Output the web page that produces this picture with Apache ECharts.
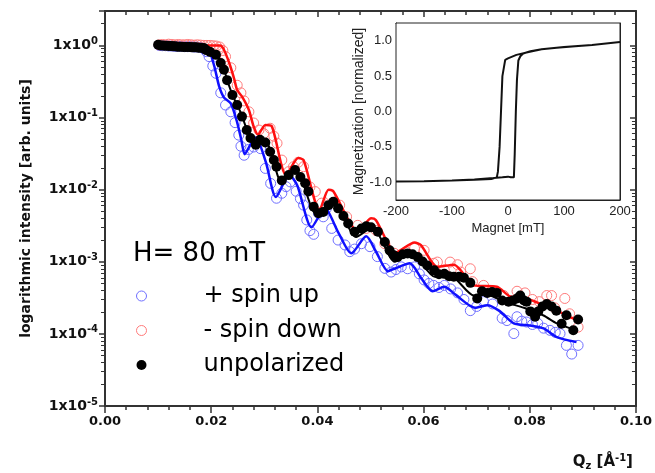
<!DOCTYPE html>
<html><head><meta charset="utf-8">
<script src="https://cdn.jsdelivr.net/npm/echarts@6/dist/echarts.min.js"></script>
<style>html,body{margin:0;padding:0;background:#fff}#c{width:655px;height:473px}</style>
</head><body><div id="c"></div>
<script>
// ---- main chart data: [Q (1/Å), intensity] ----
const spinUpPts = [[0.0102,1.0],[0.0108,0.99],[0.0114,0.99],[0.0120,0.98],[0.0126,0.98],[0.0132,0.97],[0.0138,0.97],[0.0144,0.97],[0.0150,0.96],[0.0156,0.96],[0.0162,0.96],[0.0168,0.95],[0.0174,0.95],[0.0180,0.94],[0.0186,0.90],[0.0191,0.82],[0.0196,0.70],[0.0203,0.52],[0.0209,0.41],[0.0218,0.22],[0.0227,0.149],[0.0237,0.12],[0.0245,0.085],[0.0252,0.057],[0.0256,0.040],[0.0262,0.030],[0.0270,0.036],[0.0280,0.039],[0.0293,0.037],[0.0302,0.0197],[0.0312,0.0122],[0.0323,0.0076],[0.0333,0.0089],[0.0341,0.0110],[0.0349,0.0128],[0.0360,0.0095],[0.0368,0.0075],[0.0374,0.0061],[0.0380,0.0038],[0.0386,0.0027],[0.0393,0.0024],[0.0402,0.0047],[0.0411,0.0042],[0.0417,0.0055],[0.0427,0.0029],[0.0439,0.0020],[0.0452,0.00171],[0.0461,0.00138],[0.0470,0.00150],[0.0483,0.00178],[0.0499,0.00162],[0.0513,0.00118],[0.0527,0.00081],[0.0539,0.00072],[0.0548,0.00078],[0.0558,0.00085],[0.0570,0.00080],[0.0583,0.00085],[0.0592,0.00068],[0.0601,0.00056],[0.0610,0.00050],[0.0619,0.00047],[0.0629,0.00044],[0.0639,0.00047],[0.0651,0.00042],[0.0664,0.00037],[0.0676,0.00030],[0.0688,0.00021],[0.0700,0.00024],[0.0713,0.00028],[0.0730,0.00026],[0.0748,0.000165],[0.0757,0.000153],[0.0770,0.000101],[0.0776,0.000173],[0.0785,0.000150],[0.0794,0.000146],[0.0805,0.000135],[0.0815,0.000140],[0.0826,0.000120],[0.0838,0.000112],[0.0848,0.000105],[0.0857,0.000101],[0.0869,0.0000693],[0.0879,0.0000525],[0.0891,0.0000693]];
const spinDownPts = [[0.0102,1.02],[0.0108,1.03],[0.0114,1.02],[0.0120,1.04],[0.0126,1.03],[0.0132,1.02],[0.0138,1.03],[0.0144,1.02],[0.0150,1.02],[0.0156,1.03],[0.0162,1.02],[0.0168,1.01],[0.0174,1.02],[0.0180,1.01],[0.0186,1.0],[0.0192,1.0],[0.0198,1.0],[0.0204,0.99],[0.0210,0.98],[0.0216,0.95],[0.0222,0.85],[0.0227,0.70],[0.0237,0.49],[0.0249,0.28],[0.0256,0.22],[0.0262,0.17],[0.0271,0.12],[0.0280,0.084],[0.0290,0.067],[0.0299,0.060],[0.0311,0.071],[0.0318,0.055],[0.0324,0.044],[0.0333,0.0257],[0.0346,0.0178],[0.0355,0.0208],[0.0364,0.024],[0.0374,0.0208],[0.0386,0.0109],[0.0396,0.0094],[0.0408,0.0065],[0.0424,0.0084],[0.0442,0.0061],[0.0455,0.0042],[0.0476,0.0032],[0.0492,0.0029],[0.0511,0.0027],[0.0527,0.00178],[0.0545,0.00131],[0.0567,0.00138],[0.0583,0.00153],[0.0601,0.00144],[0.0619,0.00095],[0.0626,0.00099],[0.0639,0.00077],[0.0650,0.00099],[0.0664,0.00091],[0.0670,0.00072],[0.0688,0.00080],[0.0692,0.00053],[0.0713,0.00047],[0.0729,0.00040],[0.0751,0.00034],[0.0776,0.00039],[0.0791,0.00037],[0.0805,0.00030],[0.0818,0.00028],[0.0832,0.00034],[0.0841,0.00034],[0.0847,0.00023],[0.0866,0.00031],[0.0875,0.00019],[0.0891,0.000124]];
const unpolPts = [[0.0100,1.02],[0.0104,1.0],[0.0108,1.0],[0.0112,0.99],[0.0116,0.99],[0.0120,0.98],[0.0124,0.98],[0.0128,0.97],[0.0132,0.97],[0.0136,0.96],[0.0140,0.96],[0.0144,0.96],[0.0148,0.95],[0.0152,0.95],[0.0156,0.95],[0.0160,0.95],[0.0164,0.94],[0.0168,0.94],[0.0172,0.94],[0.0176,0.93],[0.0180,0.93],[0.0184,0.92],[0.0187,0.91],[0.0190,0.866],[0.0198,0.81],[0.0209,0.74],[0.0218,0.57],[0.0224,0.46],[0.0230,0.33],[0.0240,0.205],[0.0249,0.149],[0.0258,0.103],[0.0267,0.067],[0.0274,0.052],[0.0284,0.042],[0.0292,0.049],[0.0302,0.045],[0.0311,0.0335],[0.0318,0.0257],[0.0323,0.0208],[0.0333,0.0134],[0.0346,0.0159],[0.0358,0.0187],[0.0368,0.0150],[0.0377,0.0123],[0.0383,0.0094],[0.0393,0.0058],[0.0402,0.0047],[0.0411,0.0049],[0.0421,0.0061],[0.0430,0.0068],[0.0439,0.0055],[0.0449,0.0043],[0.0458,0.0034],[0.0470,0.0026],[0.0483,0.0029],[0.0492,0.0031],[0.0501,0.0030],[0.0514,0.0026],[0.0527,0.00188],[0.0536,0.00144],[0.0544,0.00123],[0.0551,0.00116],[0.0561,0.00127],[0.0570,0.00130],[0.0579,0.00127],[0.0589,0.00116],[0.0598,0.00101],[0.0607,0.00089],[0.0620,0.00076],[0.0629,0.00067],[0.0639,0.00068],[0.0648,0.00063],[0.0657,0.00062],[0.0667,0.00062],[0.0676,0.00060],[0.0688,0.00051],[0.0701,0.00031],[0.0710,0.00039],[0.0720,0.00037],[0.0729,0.00038],[0.0738,0.00037],[0.0748,0.00029],[0.0760,0.00028],[0.0768,0.00029],[0.0776,0.00031],[0.0782,0.00034],[0.0789,0.00029],[0.0794,0.00028],[0.0801,0.000205],[0.0810,0.000173],[0.0816,0.000205],[0.0824,0.00024],[0.0832,0.00026],[0.0841,0.00024],[0.0850,0.00021],[0.0860,0.000138],[0.0869,0.000181],[0.0882,0.000112],[0.0891,0.000158]];
// fitted curves
const spinUpFit = [[0.0099,1.0],[0.0187,0.99],[0.0196,0.87],[0.0206,0.51],[0.0215,0.27],[0.0224,0.19],[0.0237,0.157],[0.0249,0.085],[0.0257,0.048],[0.0263,0.031],[0.0274,0.042],[0.0284,0.053],[0.0303,0.024],[0.0322,0.0079],[0.0347,0.016],[0.0362,0.0115],[0.0389,0.0030],[0.0414,0.0055],[0.0440,0.0025],[0.0464,0.00131],[0.0492,0.00225],[0.0510,0.0014],[0.0533,0.00074],[0.0545,0.00080],[0.0574,0.00095],[0.0595,0.00060],[0.0617,0.00039],[0.0639,0.00045],[0.0660,0.00035],[0.0697,0.00023],[0.0720,0.00025],[0.0742,0.00021],[0.0770,0.000140],[0.0800,0.000131],[0.0826,0.000119],[0.0851,0.000090],[0.0888,0.000077]];
const spinDownFit = [[0.0099,1.0],[0.0217,1.0],[0.0224,0.87],[0.0234,0.57],[0.0243,0.35],[0.0249,0.24],[0.0259,0.19],[0.0271,0.127],[0.0280,0.075],[0.0288,0.058],[0.0302,0.079],[0.0314,0.076],[0.0341,0.016],[0.0364,0.0274],[0.0374,0.0257],[0.0404,0.0052],[0.0421,0.0100],[0.0430,0.0095],[0.0477,0.0026],[0.0501,0.0040],[0.0510,0.0038],[0.0548,0.00135],[0.0583,0.00185],[0.0595,0.0017],[0.0626,0.00085],[0.0657,0.00091],[0.0695,0.00047],[0.0738,0.00045],[0.0763,0.00033],[0.0794,0.00031],[0.0826,0.00025],[0.0851,0.00021],[0.0888,0.000155]];
const unpolFit = [[0.0099,1.0],[0.0190,0.96],[0.0202,0.90],[0.0212,0.72],[0.0222,0.52],[0.0232,0.30],[0.0242,0.19],[0.0255,0.12],[0.0268,0.066],[0.0282,0.041],[0.0298,0.050],[0.0310,0.038],[0.0333,0.0125],[0.0356,0.0185],[0.0370,0.0140],[0.0398,0.0046],[0.0428,0.0066],[0.0445,0.0048],[0.0473,0.0022],[0.0501,0.0029],[0.0515,0.0024],[0.0546,0.00100],[0.0574,0.00132],[0.0590,0.00110],[0.0621,0.00062],[0.0650,0.00064],[0.0695,0.00034],[0.0715,0.00036],[0.0751,0.00028],[0.0789,0.00023],[0.0826,0.00018],[0.0851,0.00014],[0.0888,0.000112]];
// inset hysteresis loop: field (mT) and normalized magnetization, in drawing order
const loopField = [-200,-150,-100,-60,-26,-10,0,5,8,10.5,12,14,16,18.5,22,27,40,60,87,120,150,200,150,100,60,39,15,0,-5,-8,-10,-12.5,-15,-18,-20,-22,-30,-60,-100,-150,-200];
const loopMag = [-0.99,-0.985,-0.975,-0.96,-0.94,-0.93,-0.92,-0.93,-0.94,-0.93,-0.6,0.0,0.45,0.72,0.78,0.82,0.85,0.88,0.90,0.92,0.94,0.98,0.94,0.91,0.88,0.845,0.80,0.75,0.73,0.71,0.5,0.0,-0.5,-0.85,-0.93,-0.945,-0.955,-0.965,-0.975,-0.985,-0.99];
const insetYTicks = [-1.0, -0.5, 0.0, 0.5, 1.0];
const legendNames = ['+ spin up', '- spin down', 'unpolarized'];
const fieldLabel = 'H= 80 mT';

const FONT = 'DejaVu Sans';
const AX = '#333';
const chart = echarts.init(document.getElementById('c'), null, {renderer: 'canvas'});

function logLabel(v) {
  const e = Math.round(Math.log10(v));
  if (Math.abs(v / Math.pow(10, e) - 1) > 1e-6) return '';
  return '{b|1x10}{s|' + e + '}';
}
const loopData = loopField.map((h, i) => [h, loopMag[i]]);

chart.setOption({
  animation: false,
  backgroundColor: '#fff',
  title: {
    text: fieldLabel, left: 128, top: 236,
    textStyle: {fontFamily: FONT, fontSize: 26, fontWeight: 'normal', color: '#000'}
  },
  legend: {
    data: legendNames.map((n, i) => ({
      name: n, icon: 'circle',
      itemStyle: i < 2 ? {color: 'rgba(0,0,0,0)', borderColor: i === 0 ? '#6f6fff' : '#ff7b7b', borderWidth: 1} : {color: '#000'}
    })),
    orient: 'vertical', left: 131, top: 278, itemWidth: 10, itemHeight: 10, itemGap: 8.5,
    textStyle: {fontFamily: FONT, fontSize: 24, color: '#000', lineHeight: 26, padding: [0, 0, 0, 52]},
    selectedMode: false
  },
  grid: [
    {left: 105, right: 15, top: 11, bottom: 67, show: false},
    {left: 396, top: 23, width: 224, height: 177, show: true, backgroundColor: '#fff', borderColor: '#222', borderWidth: 1, z: 5}
  ],
  xAxis: [
    {type: 'value', gridIndex: 0, min: 0, max: 0.1, interval: 0.02, position: 'bottom',
     axisLine: {onZero: false, lineStyle: {color: AX, width: 2}},
     axisTick: {inside: false, length: 7, lineStyle: {color: AX, width: 1.5}},
     minorTick: {show: true, splitNumber: 5, length: 4, lineStyle: {color: AX, width: 1.5}},
     splitLine: {show: false},
     axisLabel: {margin: 9, fontFamily: FONT, fontWeight: 'bold', fontSize: 13, color: '#111', formatter: v => v.toFixed(2)},
     name: '{q|Q}{sub|z}{q| [Å}{sup|-1}{q|]}', nameLocation: 'end', nameGap: -3,
     nameTextStyle: {align: 'right', verticalAlign: 'top', padding: [47, 0, 0, 0],
       rich: {q: {fontFamily: FONT, fontWeight: 'bold', fontSize: 15, color: '#111', lineHeight: 18},
              sub: {fontFamily: FONT, fontWeight: 'bold', fontSize: 10, color: '#111', verticalAlign: 'bottom', lineHeight: 12},
              sup: {fontFamily: FONT, fontWeight: 'bold', fontSize: 10, color: '#111', verticalAlign: 'top', lineHeight: 12}}}},
    {type: 'value', gridIndex: 0, min: 0, max: 0.1, interval: 0.02, position: 'top',
     axisLine: {onZero: false, lineStyle: {color: AX, width: 2}},
     axisTick: {inside: true, length: 6, lineStyle: {color: AX, width: 1.5}},
     minorTick: {show: true, splitNumber: 5, length: 4, lineStyle: {color: AX, width: 1.5}},
     splitLine: {show: false}, axisLabel: {show: false}},
    {type: 'value', gridIndex: 1, min: -200, max: 200, interval: 100,
     axisLine: {onZero: false, lineStyle: {color: '#222', width: 1}},
     axisTick: {inside: true, length: 4, lineStyle: {color: '#222'}},
     minorTick: {show: true, splitNumber: 5, length: 2, lineStyle: {color: '#222'}},
     splitLine: {show: false},
     axisLabel: {margin: 5, fontFamily: 'Liberation Sans', fontSize: 13, color: '#222'},
     name: 'Magnet [mT]', nameLocation: 'middle', nameGap: 22,
     nameTextStyle: {fontFamily: 'Liberation Sans', fontSize: 13, color: '#222'}},
    {type: 'value', gridIndex: 1, min: -200, max: 200, interval: 100, position: 'top',
     axisLine: {onZero: false, lineStyle: {color: '#222', width: 1}},
     axisTick: {inside: true, length: 3, lineStyle: {color: '#222'}},
     minorTick: {show: true, splitNumber: 5, length: 2, lineStyle: {color: '#222'}},
     splitLine: {show: false}, axisLabel: {show: false}}
  ],
  yAxis: [
    {type: 'log', gridIndex: 0, min: 1e-5, max: 3, logBase: 10,
     axisLine: {onZero: false, lineStyle: {color: AX, width: 2}},
     axisTick: {inside: false, length: 6, lineStyle: {color: AX, width: 1.5}},
     minorTick: {show: true, splitNumber: 9, length: 4, lineStyle: {color: AX, width: 1}},
     splitLine: {show: false},
     axisLabel: {margin: 7, formatter: logLabel,
       rich: {b: {fontFamily: FONT, fontWeight: 'bold', fontSize: 14, color: '#111', lineHeight: 18},
              s: {fontFamily: FONT, fontWeight: 'bold', fontSize: 10, color: '#111', verticalAlign: 'top', lineHeight: 10}}},
     name: 'logarithmic intensity [arb. units]', nameLocation: 'middle', nameGap: 72,
     nameTextStyle: {fontFamily: FONT, fontWeight: 'bold', fontSize: 14, color: '#111'}},
    {type: 'log', gridIndex: 0, min: 1e-5, max: 3, logBase: 10, position: 'right',
     axisLine: {onZero: false, lineStyle: {color: AX, width: 2}},
     axisTick: {inside: true, length: 6, lineStyle: {color: AX, width: 1.5}},
     minorTick: {show: true, splitNumber: 9, length: 4, lineStyle: {color: AX, width: 1}},
     splitLine: {show: false}, axisLabel: {show: false}},
    {type: 'value', gridIndex: 1, min: -1.25, max: 1.25,
     axisLine: {onZero: false, lineStyle: {color: '#222', width: 1}},
     axisTick: {inside: true, length: 4, customValues: insetYTicks, lineStyle: {color: '#222'}},
     splitLine: {show: false},
     axisLabel: {margin: 4, customValues: insetYTicks, fontFamily: 'Liberation Sans', fontSize: 13, color: '#222', formatter: v => v.toFixed(1)},
     name: 'Magnetization [normalized]', nameLocation: 'middle', nameGap: 26,
     nameTextStyle: {fontFamily: 'Liberation Sans', fontSize: 14, color: '#222'}},
    {type: 'value', gridIndex: 1, min: -1.25, max: 1.25, position: 'right',
     axisLine: {onZero: false, lineStyle: {color: '#222', width: 1}},
     axisTick: {inside: true, length: 4, customValues: insetYTicks, lineStyle: {color: '#222'}},
     splitLine: {show: false}, axisLabel: {show: false}}
  ],
  series: [
    {name: 'spin up fit', type: 'line', xAxisIndex: 0, yAxisIndex: 0, data: spinUpFit, showSymbol: false, smooth: 0.25,
     lineStyle: {color: '#1010ff', width: 2.5}, z: 3},
    {name: 'spin down fit', type: 'line', xAxisIndex: 0, yAxisIndex: 0, data: spinDownFit, showSymbol: false, smooth: 0.25,
     lineStyle: {color: '#ff1010', width: 2.5}, z: 3},
    {name: 'unpolarized fit', type: 'line', xAxisIndex: 0, yAxisIndex: 0, data: unpolFit, showSymbol: false, smooth: 0.25,
     lineStyle: {color: '#000', width: 2}, z: 3},
    {name: legendNames[0], type: 'scatter', xAxisIndex: 0, yAxisIndex: 0, data: spinUpPts, symbol: 'circle', symbolSize: 10,
     itemStyle: {color: 'rgba(0,0,0,0)', borderColor: '#6f6fff', borderWidth: 1, opacity: 1}, z: 2},
    {name: legendNames[1], type: 'scatter', xAxisIndex: 0, yAxisIndex: 0, data: spinDownPts, symbol: 'circle', symbolSize: 10,
     itemStyle: {color: 'rgba(0,0,0,0)', borderColor: '#ff7b7b', borderWidth: 1, opacity: 1}, z: 2},
    {name: legendNames[2], type: 'scatter', xAxisIndex: 0, yAxisIndex: 0, data: unpolPts, symbol: 'circle', symbolSize: 10,
     itemStyle: {color: '#000', opacity: 1}, z: 4},
    {name: 'hysteresis', type: 'line', xAxisIndex: 2, yAxisIndex: 2, data: loopData, showSymbol: false,
     lineStyle: {color: '#111', width: 2}, z: 6}
  ]
});
</script></body></html>
